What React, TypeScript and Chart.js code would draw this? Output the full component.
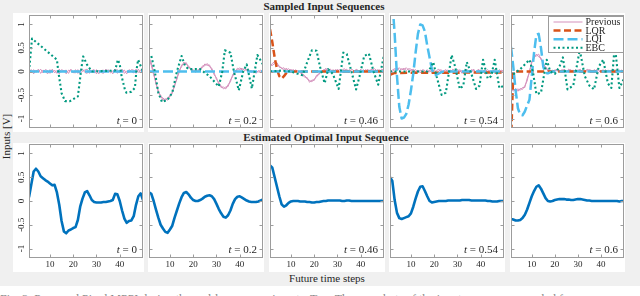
import React, { useEffect, useRef } from 'react';
import { Chart, registerables } from 'chart.js';

Chart.register(...registerables);

// ---------- categories / ticks ----------
const STEPS: number[] = Array.from({ length: 50 }, (_, i) => i + 1);
const TIME_LABELS = ['0', '0.2', '0.46', '0.54', '0.6'];
const X_TICKS = [10, 20, 30, 40];
const Y_TICKS = [-1, -0.5, 0, 0.5, 1];
const SERIES_NAMES = ['Previous', 'LQR', 'LQI', 'EBC'];

// ---------- "Previous" sampled sequences (two per snapshot) ----------
const prevA0 = [0.02,-0.03,0.04,-0.02,0.05,-0.04,0.03,0.00,-0.05,0.04,-0.02,0.03,-0.04,0.05,-0.01,0.02,-0.05,0.03,0.01,-0.03,0.04,-0.04,0.02,0.05,-0.02,-0.04,0.03,0.01,-0.03,0.04,-0.05,0.02,0.03,-0.02,0.04,-0.03,0.01,0.05,-0.04,0.02,-0.01,0.03,-0.05,0.04,0.00,-0.03,0.05,-0.02,0.03,-0.01];
const prevB0 = [-0.02,0.04,-0.05,0.03,-0.01,0.05,-0.03,0.04,0.02,-0.04,0.05,-0.03,0.02,-0.05,0.04,0.01,0.03,-0.04,0.05,-0.02,-0.03,0.04,-0.05,0.01,0.03,0.05,-0.04,0.02,0.04,-0.05,0.03,-0.02,-0.04,0.05,-0.01,0.03,-0.05,0.02,0.04,-0.03,0.05,-0.04,0.01,-0.02,0.04,0.03,-0.04,0.05,-0.03,0.02];
const prevA1 = [0.30,0.18,-0.02,-0.27,-0.40,-0.55,-0.56,-0.62,-0.55,-0.54,-0.43,-0.32,-0.13,-0.02,0.14,0.16,0.19,0.08,0.07,0.00,0.02,0.00,0.07,0.08,0.16,0.13,0.14,0.03,-0.03,-0.17,-0.23,-0.34,-0.33,-0.37,-0.28,-0.22,-0.06,-0.02,0.07,0.04,0.07,0.02,0.05,0.00,0.02,-0.03,0.00,-0.01,0.03,-0.02];
const prevB1 = [0.27,0.13,-0.07,-0.23,-0.45,-0.50,-0.61,-0.58,-0.61,-0.50,-0.47,-0.28,-0.17,0.03,0.10,0.20,0.15,0.12,0.03,0.04,-0.02,0.04,0.03,0.12,0.12,0.17,0.10,0.07,-0.07,-0.13,-0.27,-0.30,-0.37,-0.33,-0.32,-0.18,-0.10,0.02,0.03,0.08,0.03,0.06,0.01,0.04,-0.02,0.02,-0.04,0.02,-0.01,0.02];
const prevA2 = [0.10,0.17,0.21,0.14,0.12,0.06,0.08,0.03,0.06,0.01,0.04,0.00,0.02,-0.03,-0.05,-0.09,-0.16,-0.19,-0.22,-0.16,-0.12,-0.04,-0.01,0.04,0.03,0.06,-0.01,0.04,0.00,0.05,-0.02,0.03,0.06,-0.01,0.04,0.01,-0.03,0.05,0.02,-0.02,0.04,0.00,0.05,-0.02,0.03,0.06,0.01,0.04,-0.01,0.03];
const prevB2 = [0.14,0.13,0.17,0.19,0.09,0.08,0.02,0.07,0.00,0.05,-0.01,0.04,-0.02,0.01,-0.08,-0.12,-0.13,-0.23,-0.18,-0.19,-0.08,-0.07,0.02,0.00,0.07,0.01,0.05,-0.02,0.04,0.01,0.04,-0.02,0.02,0.05,-0.03,0.05,0.02,0.01,-0.02,0.05,-0.01,0.04,0.01,0.03,0.05,-0.01,0.04,0.00,0.05,0.02];
const prevA3 = [0.00,0.03,0.06,0.04,0.08,0.03,0.07,0.02,0.06,0.05,0.01,0.04,-0.02,0.03,0.00,-0.03,0.04,-0.01,0.03,-0.04,0.02,0.05,-0.02,0.01,0.04,-0.03,0.03,0.00,-0.04,0.05,-0.01,0.02,-0.03,0.04,0.01,-0.02,0.05,-0.04,0.02,0.03,-0.03,0.04,-0.01,0.02,-0.04,0.05,0.00,-0.02,0.03,-0.01];
const prevB3 = [0.03,-0.01,0.04,0.07,0.02,0.06,0.04,0.08,0.03,0.02,0.05,-0.01,0.03,-0.03,0.04,0.02,-0.04,0.03,-0.02,0.04,-0.03,0.01,0.04,-0.04,0.02,0.03,-0.02,0.05,0.01,-0.03,0.04,-0.04,0.03,0.00,-0.03,0.04,0.02,-0.01,0.05,-0.03,0.02,0.00,0.04,-0.03,0.03,0.01,-0.04,0.04,0.00,0.02];
const prevA4 = [-0.35,-0.42,-0.36,-0.42,-0.36,-0.38,-0.30,-0.20,0.02,0.18,0.32,0.33,0.37,0.25,0.19,0.06,0.05,-0.02,0.03,0.00,0.05,-0.01,0.04,0.02,-0.02,0.05,0.01,0.03,-0.02,0.04,0.00,0.03,-0.01,0.05,0.02,-0.01,0.04,0.01,-0.02,0.03,0.00,0.04,-0.01,0.02,0.03,-0.02,0.02,0.00,0.03,-0.01];
const prevB4 = [-0.39,-0.38,-0.41,-0.37,-0.40,-0.34,-0.34,-0.15,-0.03,0.22,0.28,0.37,0.31,0.29,0.15,0.10,0.01,0.02,-0.01,0.04,0.01,0.03,-0.02,0.05,0.01,0.02,0.04,-0.01,0.03,0.01,0.05,-0.02,0.02,0.01,0.04,0.02,-0.01,0.04,0.02,0.00,0.04,-0.02,0.03,0.01,-0.01,0.04,0.00,0.03,-0.01,0.02];

// ---------- LQR (step, value) ----------
const lqrX2 = [1, 2, 3, 4, 5, 6, 7, 8, 9, 50];
const lqrY2 = [0.9, 0.62, 0.3, 0.05, -0.1, -0.15, -0.1, -0.03, 0, 0];
const lqrX3 = [1, 2, 3, 50];
const lqrY3 = [-0.07, -0.05, -0.03, -0.02];
const lqrX4 = [1, 2, 50];
const lqrY4 = [-1.5, 0, 0];

// ---------- LQI (step, value) ----------
const lqiX0 = [1, 50];
const lqiY0 = [0, 0];
const lqiX1 = [1, 50];
const lqiY1 = [0, 0];
const lqiX2 = [1, 50];
const lqiY2 = [0, 0];
const lqiX3 = [1,2,3,4,5,6,7,8,9,10,11,12,13,14,15,16,17,18,19,20,21,22,23,24,50];
const lqiY3 = [2.6,1.5,0.8,-0.1,-0.75,-1.0,-0.98,-0.9,-0.7,-0.4,-0.05,0.4,0.8,1.0,0.98,0.85,0.55,0.3,0.05,-0.08,-0.07,-0.04,-0.02,0,0];
const lqiX4 = [1,2,3,4,5,6,7,8,9,10,11,12,13,14,15,16,17,18,19,50];
const lqiY4 = [0.52,0.1,-0.4,-0.78,-0.92,-0.93,-0.85,-0.72,-0.6,-0.1,0.4,0.78,0.8,0.5,0.1,-0.03,-0.04,-0.02,0,0];

// ---------- EBC (step, value) ----------
const ebcX0 = [1, 2.3, 3, 13, 13.6, 15, 16.5, 18.6, 22, 23.6, 24.3, 26, 28, 38, 39.2, 40, 40.8, 42.2, 42.9, 45, 46.5, 47.2, 47.9, 49.4, 50];
const ebcY0 = [0.0, 0.7, 0.67, 0.25, 0.0, -0.46, -0.63, -0.63, -0.53, 0.1, 0.32, 0.14, 0.0, 0.02, 0.25, 0.15, -0.1, -0.38, -0.45, -0.43, -0.35, 0.03, 0.25, 0.07, 0.0];
const ebcX1 = [2, 3.5, 5, 6.6, 9, 11, 13, 15, 16.5, 18, 23, 27, 31, 32.5, 33.6, 36, 37.5, 39.6, 41.5, 43, 45.2, 47.6, 50];
const ebcY1 = [0.33, 0.0, -0.45, -0.65, -0.6, -0.45, 0.0, 0.33, 0.12, 0.05, 0.05, -0.1, -0.32, 0.0, 0.45, 0.4, 0.0, -0.4, 0.0, 0.15, -0.36, 0.35, 0.15];
const ebcX2 = [1, 6, 10, 13, 15, 17, 19, 21, 22.5, 24.5, 26, 28, 30.5, 32.5, 34, 36, 38, 39.5, 41.5, 43.5, 45.5, 47.5, 49, 50];
const ebcY2 = [0.0, 0.02, 0.0, -0.05, -0.08, 0.2, 0.45, 0.44, 0.1, -0.25, 0.05, -0.05, -0.37, 0.4, 0.37, 0.0, -0.38, -0.1, 0.33, 0.38, 0.0, -0.28, 0.1, 0.35];
const ebcX3 = [1, 17, 18.5, 19.6, 21, 23.2, 25, 27.5, 29, 31, 32.5, 34, 36, 38, 39.5, 41, 43, 44.5, 46, 48, 50];
const ebcY3 = [0.0, 0.0, 0.08, 0.2, -0.1, -0.5, -0.45, 0.35, 0.1, -0.37, -0.3, 0.2, -0.05, -0.37, -0.3, 0.25, -0.15, -0.1, 0.25, -0.35, -0.3];
const ebcX4 = [2, 5, 9, 10.5, 12, 14, 16.5, 18, 20, 22, 23.5, 25.5, 28, 30.8, 33, 35, 37, 39, 41, 43, 44.5, 46, 48, 50];
const ebcY4 = [-0.06, 0.05, 0.25, 0.0, -0.48, -0.45, 0.25, 0.0, -0.05, 0.1, 0.3, -0.38, -0.3, 0.46, -0.1, -0.3, -0.38, 0.1, 0.25, -0.25, -0.35, 0.56, -0.35, -0.15];

// ---------- Estimated optimal input sequence (steps 1..50) ----------
const opt0 = [0.08,0.35,0.62,0.68,0.62,0.52,0.48,0.44,0.41,0.37,0.33,0.34,0.18,-0.08,-0.42,-0.64,-0.68,-0.62,-0.6,-0.57,-0.55,-0.4,-0.12,0.05,0.18,0.21,0.12,0.02,-0.02,-0.03,-0.03,-0.03,-0.02,-0.02,-0.01,0.0,0.02,0.15,0.14,0.0,-0.2,-0.37,-0.46,-0.42,-0.41,-0.32,-0.08,0.1,0.16,0.02];
const opt1 = [0.18,0.15,0.0,-0.18,-0.35,-0.5,-0.58,-0.65,-0.67,-0.6,-0.52,-0.35,-0.2,-0.05,0.08,0.17,0.19,0.14,0.07,0.02,0.0,0.0,0.02,0.05,0.09,0.11,0.12,0.1,0.04,-0.06,-0.17,-0.26,-0.33,-0.35,-0.3,-0.2,-0.06,0.04,0.09,0.1,0.07,0.04,0.01,-0.01,-0.02,-0.02,-0.02,-0.01,0.01,0.03];
const opt2 = [0.75,0.7,0.5,0.3,0.1,-0.07,-0.12,-0.09,-0.04,-0.01,0.0,0.0,0.0,-0.01,-0.01,-0.01,-0.02,-0.02,-0.03,-0.03,-0.02,-0.02,-0.01,0.0,0.0,0.01,0.01,0.01,0.01,0.01,0.01,0.0,0.0,0.01,0.01,0.0,0.0,0.0,0.0,0.0,0.0,0.0,0.0,0.0,0.0,0.0,0.0,0.0,0.0,0.0];
const opt3 = [0.5,0.42,0.02,-0.25,-0.36,-0.38,-0.36,-0.34,-0.32,-0.26,-0.12,0.05,0.2,0.3,0.31,0.21,0.1,0.0,-0.03,-0.02,-0.01,0.0,0.0,0.0,0.0,0.01,0.01,0.01,0.01,0.01,0.01,0.02,0.02,0.02,0.02,0.01,0.01,0.01,0.01,0.01,0.01,0.01,0.0,0.0,-0.01,-0.01,-0.01,0.0,0.0,0.0];
const opt4 = [-0.38,-0.39,-0.41,-0.41,-0.4,-0.36,-0.29,-0.18,-0.04,0.1,0.21,0.3,0.33,0.26,0.16,0.06,0.0,-0.01,0.0,0.02,0.03,0.04,0.04,0.04,0.03,0.03,0.02,0.02,0.03,0.04,0.04,0.03,0.02,0.01,0.01,0.0,0.0,0.0,0.0,0.0,0.0,0.0,0.0,0.0,0.0,0.0,0.0,-0.01,0.0,0.0];

const PREV_A = [prevA0, prevA1, prevA2, prevA3, prevA4];
const PREV_B = [prevB0, prevB1, prevB2, prevB3, prevB4];
const LQR_X: (number[] | null)[] = [null, null, lqrX2, lqrX3, lqrX4];
const LQR_Y: (number[] | null)[] = [null, null, lqrY2, lqrY3, lqrY4];
const LQI_X = [lqiX0, lqiX1, lqiX2, lqiX3, lqiX4];
const LQI_Y = [lqiY0, lqiY1, lqiY2, lqiY3, lqiY4];
const EBC_X = [ebcX0, ebcX1, ebcX2, ebcX3, ebcX4];
const EBC_Y = [ebcY0, ebcY1, ebcY2, ebcY3, ebcY4];
const OPT = [opt0, opt1, opt2, opt3, opt4];

// ---------- styles / layout ----------
const FONT = '"Liberation Serif", "Times New Roman", serif';
const TEXT = '#262626';
const FRAME = '#9c9c9c';
const C_PREV = 'rgb(212,145,188)';
const C_LQR = '#D95319';
const C_LQI = '#4DBEEE';
const C_EBC = '#009980';
const C_OPT = '#0072BD';
const STYLE = {
  Previous: { color: C_PREV, width: 1, dash: [] as number[] },
  LQR: { color: C_LQR, width: 2.5, dash: [7, 3.5] },
  LQI: { color: C_LQI, width: 2.5, dash: [10, 4] },
  EBC: { color: C_EBC, width: 2.1, dash: [2, 2.5] },
};

const TILE_X = [[13, 144], [148, 264], [269, 385], [389, 505], [510, 625]];
const AXES_X = [[29, 143], [149, 263], [270, 384], [390, 504], [511, 624]];
const TILE_Y = [[13, 132], [143, 272]];
const AXES_Y = [[15, 128], [144, 258]];
const Y_AXIS_W = 16;
const X_AXIS_H = 14;

Chart.defaults.font.family = FONT;
Chart.defaults.color = TEXT;

function pts(xs: number[], ys: number[]) {
  return xs.map((x, i) => ({ x, y: ys[i] }));
}

function makeDeco(row: number, col: number) {
  return {
    id: 'deco' + row + col,
    afterDatasetsDraw(chart: any) {
      const { ctx, chartArea: a, scales } = chart;
      const xs = scales.x;
      const ys = scales.y;
      ctx.save();
      const L = Math.round(a.left) + 0.5;
      const T = Math.round(a.top) + 0.5;
      const R = Math.round(a.right) - 0.5;
      const B = Math.round(a.bottom) - 0.5;
      ctx.strokeStyle = FRAME;
      ctx.lineWidth = 1;
      ctx.setLineDash([]);
      ctx.strokeRect(L, T, R - L, B - T);
      ctx.beginPath();
      for (const v of X_TICKS) {
        const p = Math.round(xs.getPixelForValue(v)) + 0.5;
        ctx.moveTo(p, T); ctx.lineTo(p, T + 3);
        ctx.moveTo(p, B); ctx.lineTo(p, B - 3);
      }
      for (const v of Y_TICKS) {
        const p = Math.round(ys.getPixelForValue(v)) + 0.5;
        ctx.moveTo(L, p); ctx.lineTo(L + 3, p);
        ctx.moveTo(R, p); ctx.lineTo(R - 3, p);
      }
      ctx.stroke();

      // t = ... annotation
      const tPart = 't';
      const rest = ' = ' + TIME_LABELS[col];
      ctx.fillStyle = TEXT;
      ctx.textBaseline = 'alphabetic';
      ctx.font = 'italic 11px ' + FONT;
      const wT = ctx.measureText(tPart).width;
      ctx.font = '11px ' + FONT;
      const wR = ctx.measureText(rest).width;
      const xEnd = a.right - 6;
      const yBase = a.bottom - (row === 0 ? 4 : 5);
      ctx.font = 'italic 11px ' + FONT;
      ctx.fillText(tPart, xEnd - wR - wT, yBase);
      ctx.font = '11px ' + FONT;
      ctx.fillText(rest, xEnd - wR, yBase);

      if (row === 0 && col === 4) {
        const bw = 75;
        const bh = 36;
        const bx = Math.round(a.right) - 1 - bw + 0.5;
        const by = Math.round(a.top) + 1 + 0.5;
        ctx.fillStyle = '#ffffff';
        ctx.fillRect(bx, by, bw, bh);
        ctx.strokeStyle = FRAME;
        ctx.lineWidth = 1;
        ctx.strokeRect(bx, by, bw, bh);
        ctx.font = '10px ' + FONT;
        ctx.textBaseline = 'middle';
        SERIES_NAMES.forEach((name, i) => {
          const st = (STYLE as any)[name];
          const yy = by + 5.5 + i * 8.6;
          ctx.beginPath();
          ctx.strokeStyle = st.color;
          ctx.lineWidth = st.width;
          ctx.setLineDash(st.dash);
          ctx.moveTo(bx + 5, yy);
          ctx.lineTo(bx + 34, yy);
          ctx.stroke();
          ctx.setLineDash([]);
          ctx.fillStyle = TEXT;
          ctx.fillText(name, bx + 37, yy + 0.5);
        });
      }
      ctx.restore();
    },
  };
}

function makeConfig(row: number, col: number): any {
  const tile = TILE_X[col];
  const ax = AXES_X[col];
  const ty = TILE_Y[row];
  const ay = AXES_Y[row];
  const yW = col === 0 ? Y_AXIS_W : 0;
  const xH = row === 1 ? X_AXIS_H : 0;
  const padding = {
    left: ax[0] - tile[0] - yW,
    right: tile[1] - ax[1],
    top: ay[0] - ty[0],
    bottom: ty[1] - ay[1] - xH,
  };

  let datasets: any[] = [];
  if (row === 0) {
    datasets.push({
      label: 'EBC', data: pts(EBC_X[col], EBC_Y[col]),
      borderColor: C_EBC, borderWidth: STYLE.EBC.width, borderDash: STYLE.EBC.dash,
    });
    datasets.push({
      label: 'LQI', data: pts(LQI_X[col], LQI_Y[col]),
      borderColor: C_LQI, borderWidth: STYLE.LQI.width, borderDash: STYLE.LQI.dash,
    });
    const lx = LQR_X[col];
    const ly = LQR_Y[col];
    if (lx && ly) {
      datasets.push({
        label: 'LQR', data: pts(lx, ly),
        borderColor: C_LQR, borderWidth: STYLE.LQR.width, borderDash: STYLE.LQR.dash,
      });
    }
    datasets.push({
      label: 'Previous', data: pts(STEPS, PREV_A[col]),
      borderColor: C_PREV, borderWidth: STYLE.Previous.width,
    });
    datasets.push({
      label: 'Previous', data: pts(STEPS, PREV_B[col]),
      borderColor: C_PREV, borderWidth: STYLE.Previous.width,
    });
  } else {
    datasets.push({
      label: 'Optimal', data: pts(STEPS, OPT[col]),
      borderColor: C_OPT, borderWidth: 2.6,
    });
  }
  datasets = datasets.map((d) => ({ ...d, pointRadius: 0, tension: 0, fill: false, clip: 0, borderJoinStyle: 'round' }));

  return {
    type: 'line',
    data: { datasets },
    options: {
      responsive: false,
      maintainAspectRatio: false,
      animation: false,
      devicePixelRatio: 1,
      events: [],
      layout: { padding },
      plugins: { legend: { display: false }, tooltip: { enabled: false }, title: { display: false } },
      scales: {
        x: {
          type: 'linear', min: 1, max: 50, display: row === 1,
          afterBuildTicks: (s: any) => { s.ticks = X_TICKS.map((v) => ({ value: v })); },
          afterFit: (s: any) => { s.height = xH; s.paddingLeft = 0; s.paddingRight = 0; },
          grid: { display: false, drawTicks: false },
          border: { display: false },
          ticks: { autoSkip: false, minRotation: 0, maxRotation: 0, padding: 1.5, font: { size: 9, family: FONT }, color: TEXT, callback: (v: any) => String(v) },
        },
        y: {
          type: 'linear', min: -1.2, max: 1.2, display: col === 0,
          afterBuildTicks: (s: any) => { s.ticks = Y_TICKS.map((v) => ({ value: v })); },
          afterFit: (s: any) => { s.width = yW; s.paddingTop = 0; s.paddingBottom = 0; },
          grid: { display: false, drawTicks: false },
          border: { display: false },
          ticks: { autoSkip: false, minRotation: 90, maxRotation: 90, crossAlign: 'center', padding: 0, font: { size: 9, family: FONT }, color: TEXT, callback: (v: any) => String(v) },
        },
      },
    },
    plugins: [makeDeco(row, col)],
  };
}

const abs = (o: any): React.CSSProperties => ({ position: 'absolute', ...o });

export default function App() {
  const refs = useRef<(HTMLCanvasElement | null)[]>([]);

  useEffect(() => {
    const charts: Chart[] = [];
    for (let r = 0; r < 2; r++) {
      for (let c = 0; c < 5; c++) {
        const cv = refs.current[r * 5 + c];
        if (cv) charts.push(new Chart(cv, makeConfig(r, c)));
      }
    }
    return () => charts.forEach((ch) => ch.destroy());
  }, []);

  const panels: React.ReactNode[] = [];
  for (let r = 0; r < 2; r++) {
    for (let c = 0; c < 5; c++) {
      const t = TILE_X[c];
      const ty = TILE_Y[r];
      panels.push(
        <div key={r + '-' + c} style={abs({ left: t[0], top: ty[0], width: t[1] - t[0], height: ty[1] - ty[0], background: '#ffffff' })}>
          <canvas
            ref={(el) => { refs.current[r * 5 + c] = el; }}
            width={t[1] - t[0]}
            height={ty[1] - ty[0]}
            style={{ display: 'block' }}
          />
        </div>
      );
    }
  }

  return (
    <div style={abs({ left: 0, top: 0, width: 640, height: 296, background: '#ffffff', overflow: 'hidden', fontFamily: FONT, color: TEXT })}>
      <div style={abs({ left: 0, top: 0, width: 640, height: 286, background: '#f0f0f0' })} />
      <div style={abs({ left: 204, top: 0, width: 240, height: 13, lineHeight: '13px', textAlign: 'center', fontWeight: 'bold', fontSize: 11, whiteSpace: 'nowrap' })}>
        Sampled Input Sequences
      </div>
      <div style={abs({ left: 206, top: 131, width: 240, height: 13, lineHeight: '13px', textAlign: 'center', fontWeight: 'bold', fontSize: 11, whiteSpace: 'nowrap' })}>
        Estimated Optimal Input Sequence
      </div>
      <div style={abs({ left: 227, top: 272, width: 200, height: 13, lineHeight: '13px', textAlign: 'center', fontSize: 11, whiteSpace: 'nowrap' })}>
        Future time steps
      </div>
      <div style={abs({ left: -44, top: 130, width: 100, height: 13, lineHeight: '13px', textAlign: 'center', fontSize: 11, whiteSpace: 'nowrap', transform: 'rotate(-90deg)' })}>
        Inputs [V]
      </div>
      {panels}
      <div style={abs({ left: 0, top: 292, width: 640, height: 14, lineHeight: '14px', fontSize: 12, color: '#888', whiteSpace: 'nowrap' })}>
        Fig. 3: Proposed Pi-ed MPPI during the real-hover experiments. Top: The snapshots of the input sequences sampled f
      </div>
    </div>
  );
}
